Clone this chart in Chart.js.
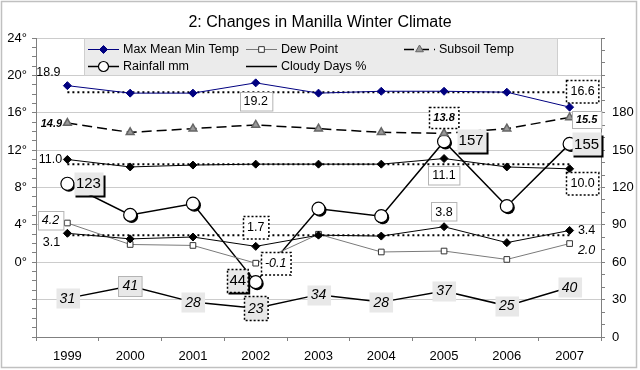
<!DOCTYPE html>
<html>
<head>
<meta charset="utf-8">
<script src="https://cdn.jsdelivr.net/npm/chart.js"></script>
<style>
    html, body { margin: 0; padding: 0; background: #fff; }
    #wrap { width: 640px; height: 370px; }
</style>
</head>
<body>
<div id="wrap"><canvas id="climateChart" width="640" height="370"></canvas></div>
<script>
// Years (winter seasons)
const years = ['1999', '2000', '2001', '2002', '2003', '2004', '2005', '2006', '2007'];

// Temperatures, deg C (left axis)
const maxTemp = [18.9, 18.1, 18.1, 19.2, 18.1, 18.3, 18.3, 18.2, 16.6];
const meanTemp = [11.0, 10.2, 10.4, 10.5, 10.5, 10.5, 11.1, 10.2, 10.0];
const minTemp = [3.1, 2.5, 2.7, 1.7, 2.9, 2.8, 3.8, 2.1, 3.4];
const dewPoint = [4.2, 1.9, 1.8, -0.1, 3.0, 1.1, 1.2, 0.3, 2.0];
const subsoilTemp = [14.9, 13.9, 14.3, 14.7, 14.3, 13.9, 13.8, 14.3, 15.5];

// Long-term averages shown as dotted lines
const maxAvg = 18.2;
const meanAvg = 10.5;
const minAvg = 2.9;

// Rainfall mm and cloudy days % (right axis)
const rainfall = [123, 98, 107, 44, 103, 97, 157, 105, 155];
const cloudyDays = [31, 41, 28, 23, 34, 28, 37, 25, 40];

// Tick labels that are printed
const tempTicks = [0, 4, 8, 12, 16, 20, 24];
const rightTicks = [0, 30, 60, 90, 120, 150, 180];

const FONT = "'Liberation Sans', Arial, sans-serif";
Chart.defaults.font.family = FONT;
Chart.defaults.color = '#000';

function avgLine(v) {
    return [{ x: years[0], y: v }, { x: years[years.length - 1], y: v }];
}

// Where the value labels go: dataset, point, offset from point, look
const labelSpecs = [
    { ds: 0, i: 0, dx: -19, dy: -14, look: 'plain' },
    { ds: 0, i: 3, dx: 0, dy: 18, look: 'solid' },
    { ds: 0, i: 8, dx: 13, dy: -16, look: 'dotted' },
    { ds: 1, i: 0, dx: -17, dy: 0, look: 'plain' },
    { ds: 1, i: 6, dx: 0, dy: 17, look: 'solid' },
    { ds: 1, i: 8, dx: 13, dy: 14, look: 'dotted' },
    { ds: 2, i: 0, dx: -16, dy: 9, look: 'plain' },
    { ds: 2, i: 3, dx: 0, dy: -19, look: 'dotted' },
    { ds: 2, i: 6, dx: 0, dy: -15, look: 'solid' },
    { ds: 2, i: 8, dx: 17, dy: 0, look: 'plain' },
    { ds: 6, i: 0, dx: -17, dy: -3, look: 'solid' },
    { ds: 6, i: 3, dx: 20, dy: 0, look: 'dotted' },
    { ds: 6, i: 8, dx: 17, dy: 6, look: 'plain' },
    { ds: 7, i: 0, dx: -16, dy: 0, look: 'plain' },
    { ds: 7, i: 6, dx: 0, dy: -16, look: 'dotted' },
    { ds: 7, i: 8, dx: 17, dy: 2, look: 'solid' },
    { ds: 8, i: 0, dx: 21, dy: 0, look: 'shadow' },
    { ds: 8, i: 3, dx: -18, dy: -2, look: 'shadowDotted' },
    { ds: 8, i: 6, dx: 27, dy: -1, look: 'shadow' },
    { ds: 8, i: 8, dx: 17, dy: 0, look: 'shadow' }
];
cloudyDays.forEach((v, i) => {
    labelSpecs.push({ ds: 9, i: i, dx: 0, dy: 0, look: i === 1 ? 'greySolid' : (i === 3 ? 'greyDotted' : 'grey') });
});

// Dark shade behind the rainfall circles
const circleShade = {
    id: 'circleShade',
    beforeDatasetDraw(chart, args) {
        if (args.index !== 8) return;
        const ctx = chart.ctx;
        ctx.save();
        ctx.fillStyle = '#000';
        args.meta.data.forEach(pt => {
            ctx.beginPath();
            ctx.arc(pt.x + 1.5, pt.y + 1.5, 6.5, 0, Math.PI * 2);
            ctx.fill();
        });
        ctx.restore();
    }
};

// Value labels
const valueLabels = {
    id: 'valueLabels',
    afterDatasetsDraw(chart) {
        const ctx = chart.ctx;
        ctx.save();
        labelSpecs.forEach(spec => {
            const ds = chart.data.datasets[spec.ds];
            const pt = chart.getDatasetMeta(spec.ds).data[spec.i];
            const v = ds.data[spec.i];
            const text = ds.valueDigits ? v.toFixed(ds.valueDigits) : String(v);
            const x = pt.x + spec.dx;
            const y = pt.y + spec.dy;
            ctx.font = ds.valueFont;
            const tw = ctx.measureText(text).width;
            const size = ds.valueSize;
            let padX = 4, padY = 3;
            if (spec.look === 'dotted' || spec.look === 'greyDotted') padY = 5;
            if (spec.look.indexOf('shadow') === 0) { padX = 2; padY = 4; }
            const w = tw + padX * 2;
            const h = size + padY * 2;
            const bx = Math.round(x - w / 2) + 0.5;
            const by = Math.round(y - h / 2) + 0.5;

            if (spec.look !== 'plain') {
                ctx.fillStyle = spec.look === 'solid' || spec.look === 'dotted' ? '#fff' : '#e8e8e8';
                ctx.fillRect(bx, by, w, h);
            }
            if (spec.look === 'solid' || spec.look === 'greySolid') {
                ctx.setLineDash([]);
                ctx.lineWidth = 1;
                ctx.strokeStyle = '#b4b4b4';
                ctx.strokeRect(bx, by, w, h);
            }
            if (spec.look === 'dotted' || spec.look === 'greyDotted' || spec.look === 'shadowDotted') {
                ctx.setLineDash([2, 2]);
                ctx.lineWidth = 1.5;
                ctx.strokeStyle = '#000';
                ctx.strokeRect(bx, by, w, h);
            }
            if (spec.look.indexOf('shadow') === 0) {
                ctx.setLineDash([]);
                ctx.lineWidth = 2;
                ctx.strokeStyle = '#000';
                ctx.beginPath();
                ctx.moveTo(bx + w + 1, by + 3);
                ctx.lineTo(bx + w + 1, by + h + 1);
                ctx.lineTo(bx + 1, by + h + 1);
                ctx.stroke();
            }
            ctx.setLineDash([]);
            ctx.fillStyle = '#000';
            ctx.textAlign = 'center';
            ctx.textBaseline = 'middle';
            ctx.fillText(text, x, y + 0.5);
        });
        ctx.restore();
    }
};

// Legend box drawn inside the plot, two rows
const legendRows = [[0, 6, 7], [8, 9]];
const legendCols = [88, 246, 404];
const legendRowY = [49, 66];

const boxLegend = {
    id: 'boxLegend',
    afterDraw(chart) {
        const ctx = chart.ctx;
        ctx.save();
        ctx.fillStyle = '#ebebeb';
        ctx.fillRect(84, 38, 473, 37);
        ctx.strokeStyle = '#cfcfcf';
        ctx.lineWidth = 1;
        ctx.strokeRect(84.5, 38.5, 473, 37);

        legendRows.forEach((row, r) => {
            row.forEach((dsIndex, c) => {
                const ds = chart.data.datasets[dsIndex];
                const x0 = legendCols[c];
                const y = legendRowY[r];
                ctx.strokeStyle = ds.borderColor;
                ctx.lineWidth = ds.borderWidth;
                ctx.setLineDash(ds.borderDash || []);
                ctx.beginPath();
                ctx.moveTo(x0, y + 0.5);
                ctx.lineTo(x0 + 31, y + 0.5);
                ctx.stroke();
                ctx.setLineDash([]);
                if (ds.pointRadius > 0) {
                    ctx.fillStyle = ds.pointBackgroundColor;
                    ctx.strokeStyle = ds.pointBorderColor;
                    ctx.lineWidth = ds.pointBorderWidth || 1;
                    Chart.helpers.drawPoint(ctx, {
                        pointStyle: ds.pointStyle,
                        radius: Math.min(ds.pointRadius, 5),
                        rotation: 0,
                        borderWidth: ds.pointBorderWidth || 1
                    }, x0 + 15.5, y + 0.5);
                }
                ctx.fillStyle = '#000';
                ctx.font = '12.5px ' + FONT;
                ctx.textAlign = 'left';
                ctx.textBaseline = 'middle';
                ctx.fillText(ds.label, x0 + 35, y + 1);
            });
        });

        // outer frame
        ctx.strokeStyle = '#c0c0c0';
        ctx.strokeRect(1.5, 1.5, 635, 366);
        ctx.restore();
    }
};

const tempFont = '12.5px ' + FONT;

new Chart(document.getElementById('climateChart'), {
    type: 'line',
    data: {
        labels: years,
        datasets: [
            {
                label: 'Max Mean Min Temp', data: maxTemp, yAxisID: 'y',
                borderColor: '#000080', borderWidth: 1,
                pointStyle: 'rectRot', pointRadius: 4,
                pointBackgroundColor: '#000080', pointBorderColor: '#000080',
                valueFont: tempFont, valueSize: 12.5, valueDigits: 1
            },
            {
                label: 'Mean Temp', data: meanTemp, yAxisID: 'y',
                borderColor: '#000', borderWidth: 1,
                pointStyle: 'rectRot', pointRadius: 4,
                pointBackgroundColor: '#000', pointBorderColor: '#000',
                valueFont: tempFont, valueSize: 12.5, valueDigits: 1
            },
            {
                label: 'Min Temp', data: minTemp, yAxisID: 'y',
                borderColor: '#000', borderWidth: 1,
                pointStyle: 'rectRot', pointRadius: 4,
                pointBackgroundColor: '#000', pointBorderColor: '#000',
                valueFont: tempFont, valueSize: 12.5, valueDigits: 1
            },
            {
                label: 'Max Avg', data: avgLine(maxAvg), yAxisID: 'y',
                borderColor: '#000', borderWidth: 2, borderDash: [2, 3], pointRadius: 0
            },
            {
                label: 'Mean Avg', data: avgLine(meanAvg), yAxisID: 'y',
                borderColor: '#000', borderWidth: 2, borderDash: [2, 3], pointRadius: 0
            },
            {
                label: 'Min Avg', data: avgLine(minAvg), yAxisID: 'y',
                borderColor: '#000', borderWidth: 2, borderDash: [2, 3], pointRadius: 0
            },
            {
                label: 'Dew Point', data: dewPoint, yAxisID: 'y',
                borderColor: '#7a7a7a', borderWidth: 1,
                pointStyle: 'rect', pointRadius: 4,
                pointBackgroundColor: '#fff', pointBorderColor: '#333',
                valueFont: 'italic ' + tempFont, valueSize: 12.5, valueDigits: 1
            },
            {
                label: 'Subsoil Temp', data: subsoilTemp, yAxisID: 'y',
                borderColor: '#000', borderWidth: 1.5, borderDash: [10, 5],
                pointStyle: 'triangle', pointRadius: 4.5,
                pointBackgroundColor: '#9a9a9a', pointBorderColor: '#666',
                valueFont: 'italic bold 11px ' + FONT, valueSize: 11, valueDigits: 1
            },
            {
                label: 'Rainfall mm', data: rainfall, yAxisID: 'y1',
                borderColor: '#000', borderWidth: 1.5,
                pointStyle: 'circle', pointRadius: 6.5, pointBorderWidth: 1.2,
                pointBackgroundColor: '#fff', pointBorderColor: '#000',
                valueFont: '15px ' + FONT, valueSize: 15
            },
            {
                label: 'Cloudy Days %', data: cloudyDays, yAxisID: 'y1',
                borderColor: '#000', borderWidth: 1.5, pointRadius: 0,
                valueFont: 'italic 14px ' + FONT, valueSize: 14
            }
        ]
    },
    options: {
        responsive: false,
        animation: false,
        layout: { padding: 0 },
        plugins: {
            legend: { display: false },
            tooltip: { enabled: false },
            title: {
                display: true,
                text: '2: Changes in Manilla Winter Climate',
                font: { size: 16, weight: 'normal', family: FONT },
                color: '#000',
                padding: { top: 13, bottom: 5.8 }
            }
        },
        scales: {
            x: {
                offset: true,
                grid: {
                    offset: true, drawOnChartArea: false,
                    tickLength: 4, tickColor: '#808080'
                },
                border: { color: '#808080' },
                ticks: { font: { size: 13 }, color: '#000', padding: 8 },
                afterFit(scale) { scale.height = 33; }
            },
            y: {
                position: 'left',
                min: -8, max: 24,
                grid: {
                    color: c => (c.tick && c.tick.value % 4 === 0) ? '#cccccc' : 'rgba(0,0,0,0)',
                    tickLength: 4, tickColor: '#808080'
                },
                border: { color: '#808080' },
                ticks: {
                    stepSize: 1, autoSkip: false, padding: 5,
                    font: { size: 13 }, color: '#000',
                    callback: v => tempTicks.includes(v) ? v + '°' : ''
                },
                afterFit(scale) { scale.width = 36; }
            },
            y1: {
                position: 'right',
                min: 0, max: 240,
                grid: { drawOnChartArea: false, tickLength: 4, tickColor: '#808080' },
                border: { color: '#808080' },
                ticks: {
                    stepSize: 10, autoSkip: false, padding: 7,
                    font: { size: 13 }, color: '#000',
                    callback: v => rightTicks.includes(v) ? String(v) : ''
                },
                afterFit(scale) { scale.width = 39; }
            }
        }
    },
    plugins: [circleShade, valueLabels, boxLegend]
});
</script>
</body>
</html>
